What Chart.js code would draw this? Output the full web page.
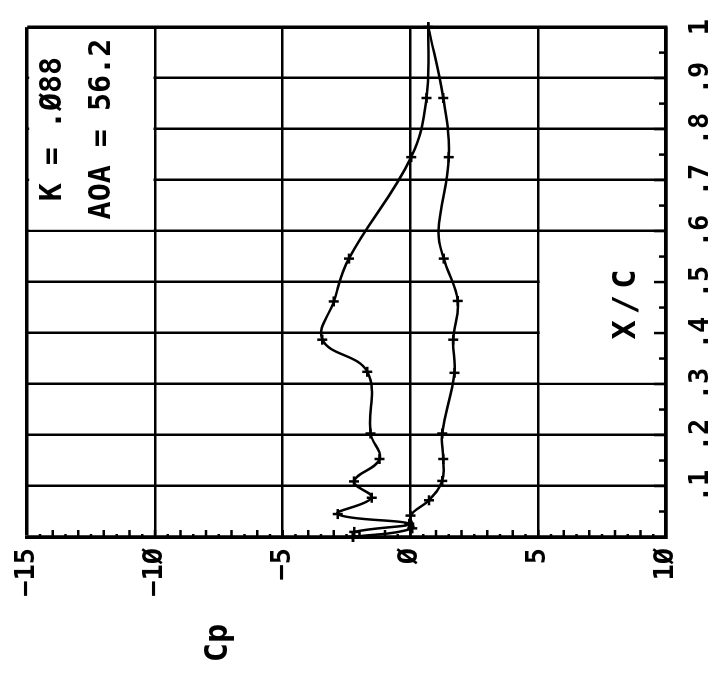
<!DOCTYPE html>
<html>
<head>
<meta charset="utf-8">
<script src="https://cdn.jsdelivr.net/npm/chart.js@4.4.1/dist/chart.umd.min.js"></script>
<style>
    html, body { margin: 0; padding: 0; background: #fff; }
    #wrap { position: relative; width: 717px; height: 674px; overflow: hidden; }
    /* the plot is laid out upright, then turned a quarter turn counter-clockwise */
    #cpChart { position: absolute; left: 0; top: 0; transform-origin: 0 0; transform: translateY(674px) rotate(-90deg); }
</style>
</head>
<body>
<div id="wrap"><canvas id="cpChart" width="674" height="717"></canvas></div>
<script>
// upper (suction) surface
const upperXC = [0, 0.010, 0.026, 0.045, 0.077, 0.109, 0.153, 0.203, 0.324, 0.387, 0.462, 0.546, 0.745, 0.861, 1.0];
const upperCp = [-2.25, -2.2, -0.05, -2.85, -1.52, -2.21, -1.21, -1.56, -1.69, -3.45, -3.0, -2.41, 0.03, 0.63, 0.70];

// lower (pressure) surface
const lowerXC = [0, 0.017, 0.042, 0.072, 0.110, 0.153, 0.203, 0.322, 0.387, 0.463, 0.546, 0.600, 0.745, 0.861, 1.0];
const lowerCp = [-2.25, 0.07, 0.0, 0.72, 1.24, 1.28, 1.24, 1.72, 1.67, 1.85, 1.30, 1.10, 1.50, 1.28, 0.70];
// the 0.6 station has no cross drawn on it
const lowerMarked = [1, 1, 1, 1, 1, 1, 1, 1, 1, 1, 1, 0, 1, 1, 1];

const caseLines = ['K = .Ø88', 'AOA = 56.2'];
const xTitle = 'X/C';
const yTitle = 'Cp';

const FONT = '"DejaVu Sans Mono", monospace';

// plotter style: slashed zero, long minus
const plotterText = s => s.replace(/0/g, 'Ø').replace('-', '\u2212');

const toPoints = (xs, ys) => xs.map((v, i) => ({ x: v, y: ys[i] }));

const plotMarks = {
    id: 'plotMarks',
    beforeDatasetsDraw(chart) {
        const { ctx, chartArea: a, scales: { x, y } } = chart;
        ctx.save();

        // blank the grid inside the case box and behind the X/C title
        ctx.fillStyle = '#fff';
        const bx = x.getPixelForValue(0.6);
        const by = y.getPixelForValue(-10);
        ctx.fillRect(bx + 1.5, a.top + 2, a.right - 2 - bx - 1.5, by - 1.5 - a.top - 2);
        const tx0 = x.getPixelForValue(0.3), tx1 = x.getPixelForValue(0.6);
        const ty = y.getPixelForValue(5);
        ctx.fillRect(tx0 + 1.5, ty + 1.5, tx1 - tx0 - 3, a.bottom - 2 - ty - 1.5);

        // inward minor ticks
        ctx.strokeStyle = '#000';
        ctx.lineWidth = 2.5;
        ctx.beginPath();
        for (let i = 1; i < 50; i++) {
            const py = y.getPixelForValue(-15 + i * 0.5);
            const len = i % 2 === 0 ? 7 : 3;
            ctx.moveTo(a.left, py);
            ctx.lineTo(a.left + len, py);
        }
        for (let i = 1; i < 20; i++) {
            const px = x.getPixelForValue(i * 0.05);
            const len = i % 2 === 0 ? 12 : 7;
            ctx.moveTo(px, a.bottom);
            ctx.lineTo(px, a.bottom - len);
        }
        ctx.stroke();

        // text
        ctx.fillStyle = '#000';
        ctx.textAlign = 'center';
        ctx.textBaseline = 'middle';
        ctx.font = 'bold 30px ' + FONT;
        const cx = (bx + a.right) / 2;
        ctx.fillText(caseLines[0], cx, y.getPixelForValue(-14.0));
        ctx.fillText(caseLines[1], cx, y.getPixelForValue(-12.05));

        ctx.font = 'bold 32px ' + FONT;
        ctx.letterSpacing = '6px';
        ctx.fillText(xTitle, x.getPixelForValue(0.456) + 3, y.getPixelForValue(8.48));
        ctx.letterSpacing = '0px';
        ctx.fillText(yTitle, 31, y.getPixelForValue(-7.5));

        ctx.restore();
    }
};

const edgeWidth = c => (c.index === 0 || c.index === c.scale.ticks.length - 1) ? 3.5 : 2.5;

const surface = (label, xs, ys, radius) => ({
    label,
    data: toPoints(xs, ys),
    borderColor: '#000',
    borderWidth: 2.5,
    pointStyle: 'cross',
    pointRadius: radius,
    pointBorderWidth: 2.5,
    pointBorderColor: '#000',
    tension: 0.4,
    fill: false,
    clip: 8
});

new Chart(document.getElementById('cpChart').getContext('2d'), {
    type: 'line',
    data: {
        datasets: [
            surface('upper', upperXC, upperCp, 5),
            surface('lower', lowerXC, lowerCp, lowerMarked.map(m => m ? 5 : 0))
        ]
    },
    options: {
        responsive: false,
        devicePixelRatio: 1,
        animation: false,
        layout: { padding: { top: 26, right: 13, left: 0, bottom: 0 } },
        plugins: {
            legend: { display: false },
            tooltip: { enabled: false }
        },
        scales: {
            x: {
                type: 'linear',
                min: 0,
                max: 1,
                afterFit: s => { s.height = 51; },
                grid: { color: '#000', lineWidth: edgeWidth, drawTicks: false },
                border: { color: '#000', width: 3.5 },
                ticks: {
                    stepSize: 0.1,
                    padding: 19,
                    color: '#000',
                    font: { family: FONT, size: 27, weight: 'bold' },
                    callback: v => {
                        const d = Math.round(v * 10);
                        if (d === 0) return '';
                        return d === 10 ? '1' : '.' + d;
                    }
                }
            },
            y: {
                type: 'linear',
                reverse: true,
                min: -15,
                max: 10,
                afterFit: s => { s.width = 137; },
                grid: { color: '#000', lineWidth: edgeWidth, drawTicks: false },
                border: { color: '#000', width: 3.5 },
                ticks: {
                    stepSize: 5,
                    padding: 11,
                    color: '#000',
                    font: { family: FONT, size: 27, weight: 'bold' },
                    callback: v => plotterText(String(v))
                }
            }
        }
    },
    plugins: [plotMarks]
});
</script>
</body>
</html>
